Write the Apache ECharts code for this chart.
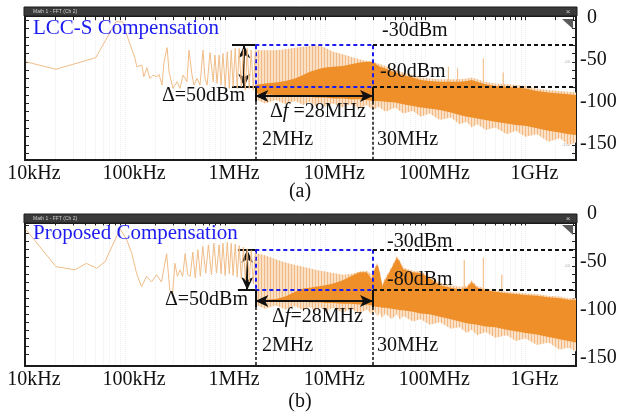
<!DOCTYPE html>
<html><head><meta charset="utf-8">
<script src="https://cdn.jsdelivr.net/npm/echarts@6/dist/echarts.min.js"></script>
<style>html,body{margin:0;padding:0;background:#fff}#c{width:622px;height:415px}</style>
</head><body><div id="c"></div>
<script>
// ---------- axis / tick data ----------
const X_MIN = 1e4, X_MAX = 3.2e9;
const xTickValues = [1e4, 1e5, 1e6, 1e7, 1e8, 1e9];
const xTickLabels = ['10kHz', '100kHz', '1MHz', '10MHz', '100MHz', '1GHz'];
const yTickValues = [0, -50, -100, -150];
const F_LOW = 2e6, F_HIGH = 3e7;       // 2MHz, 30MHz
const LVL_HI = -30, LVL_LO = -80;      // -30dBm, -80dBm

// ---------- (a) LCC-S compensation ----------
const lowA = [[1.02e4,-50],[2.04e4,-59],[5.1e4,-45],[8.1e4,-2],[9.5e4,-2],[1.02e5,-15],[1.25e5,-45],[1.31e5,-56],[1.47e5,-54],[1.54e5,-68],[1.65e5,-57],[1.77e5,-70],[1.9e5,-66],[2.08e5,-68],[2.18e5,-65],[2.34e5,-78],[2.45e5,-50],[2.63e5,-33],[2.75e5,-62],[3.01e5,-82],[3.3e5,-74],[3.54e5,-82],[3.79e5,-66],[4.15e5,-74],[4.35e5,-36],[4.66e5,-66],[4.88e5,-78],[5.23e5,-70],[5.6e5,-78],[6.0e5,-36],[6.3e5,-70],[6.6e5,-78],[7.05e5,-39],[7.6e5,-74],[7.9e5,-42],[8.3e5,-76],[8.7e5,-42],[9.1e5,-78],[9.5e5,-40],[1.0e6,-80],[1.05e6,-38],[1.1e6,-82],[1.15e6,-36],[1.2e6,-80],[1.26e6,-34],[1.32e6,-82],[1.38e6,-34],[1.45e6,-80],[1.52e6,-35],[1.59e6,-84],[1.66e6,-34],[1.74e6,-82],[1.82e6,-36],[1.91e6,-84],[2.0e6,-38]];
const bandFreqA = [2.0e6,2.5e6,3.2e6,4.0e6,5.0e6,6.0e6,7.0e6,8.0e6,9.0e6,1.0e7,1.2e7,1.5e7,1.8e7,2.2e7,2.6e7,3.0e7,3.4e7,4.0e7,5.0e7,6.0e7,7.5e7,9.0e7,1.1e8,1.4e8,1.8e8,2.2e8,2.6e8,2.9e8,3.3e8,4.0e8,5.0e8,6.5e8,8.0e8,1.0e9,1.3e9,1.7e9,2.2e9,2.7e9,3.2e9];
const lightTopA = [-36,-36,-36,-35,-33,-32,-31,-30,-31,-33,-38,-41,-44,-47,-49,-50,-52,-55,-60,-63,-66,-69,-70,-71,-71,-71,-70,-69,-71,-74,-76,-77,-78,-79,-82,-84,-85,-86,-87];
const darkTopA = [-78,-76,-75,-73,-70,-66,-62,-60,-58,-57,-56,-55,-53,-51,-50,-50,-55,-58,-63,-66,-69,-72,-73,-74,-74,-74,-73,-72,-74,-77,-79,-80,-81,-82,-85,-87,-88,-89,-90];
const darkBottomA = [-88,-89,-90,-90,-91,-92,-92,-93,-93,-93,-94,-94,-95,-95,-96,-97,-97,-98,-99,-101,-103,-105,-106,-108,-111,-114,-116,-117,-118,-120,-122,-124,-126,-127,-130,-133,-135,-137,-138];
const lightBottomA = [-95,-100,-96,-101,-97,-102,-98,-103,-99,-104,-100,-105,-101,-106,-102,-108,-104,-110,-105,-112,-109,-116,-112,-120,-117,-125,-122,-129,-125,-132,-129,-137,-133,-140,-137,-146,-142,-150,-147];
const spikeFreqA = [1.7e8, 2.1e8, 3.8e8, 6.0e8];
const spikeTopA = [-56, -58, -46, -63];

// ---------- (b) Proposed compensation ----------
const lowB = [[1.02e4,-5],[2.04e4,-51],[3.16e4,-55],[4.1e4,-47],[5.2e4,-53],[6.3e4,-45],[8.2e4,-14],[8.9e4,-4],[9.2e4,-2],[1.04e5,-18],[1.17e5,-35],[1.3e5,-59],[1.46e5,-76],[1.64e5,-63],[1.84e5,-70],[2.06e5,-61],[2.31e5,-70],[2.6e5,-35],[2.8e5,-80],[2.98e5,-84],[3.15e5,-47],[3.33e5,-63],[3.54e5,-55],[3.76e5,-63],[3.98e5,-35],[4.23e5,-61],[4.47e5,-63],[4.75e5,-33],[5.02e5,-65],[5.34e5,-30],[5.65e5,-63],[5.97e5,-26],[6.4e5,-59],[6.8e5,-24],[7.3e5,-61],[7.7e5,-22],[8.2e5,-59],[8.7e5,-24],[9.1e5,-60],[9.5e5,-22],[1.0e6,-62],[1.05e6,-21],[1.1e6,-60],[1.15e6,-22],[1.2e6,-62],[1.26e6,-23],[1.32e6,-64],[1.38e6,-25],[1.45e6,-66],[1.52e6,-27],[1.59e6,-68],[1.66e6,-29],[1.74e6,-70],[1.82e6,-31],[1.91e6,-72],[2.0e6,-33]];
const bandFreqB = [2.0e6,2.5e6,3.2e6,4.0e6,5.0e6,6.0e6,7.0e6,8.0e6,9.0e6,1.0e7,1.2e7,1.5e7,1.8e7,2.2e7,2.6e7,2.9e7,3.1e7,3.3e7,3.5e7,3.7e7,4.0e7,4.6e7,5.2e7,5.6e7,6.0e7,7.5e7,9.0e7,1.1e8,1.4e8,1.8e8,2.2e8,2.6e8,2.9e8,3.3e8,4.0e8,5.0e8,6.5e8,8.0e8,1.0e9,1.3e9,1.7e9,2.2e9,2.7e9,3.2e9];
const lightTopB = [-34,-37,-42,-46,-49,-51,-53,-55,-56,-57,-59,-61,-60,-57,-56,-60,-53,-46,-56,-72,-64,-51,-38,-44,-52,-56,-57,-63,-71,-74,-76,-75,-68,-75,-78,-80,-82,-83,-84,-85,-87,-88,-90,-90];
const darkTopB = [-92,-92,-91,-88,-82,-78,-77,-76,-75,-74,-72,-68,-63,-58,-58,-66,-55,-48,-58,-75,-67,-53,-40,-46,-54,-58,-59,-65,-74,-77,-79,-77,-70,-77,-80,-82,-84,-85,-86,-87,-89,-90,-92,-92];
const darkBottomB = [-92,-92,-93,-93,-94,-94,-95,-95,-95,-96,-96,-97,-97,-98,-98,-99,-100,-101,-101,-102,-102,-103,-104,-105,-105,-107,-109,-110,-113,-116,-119,-121,-122,-123,-125,-126,-129,-131,-133,-135,-138,-141,-143,-145];
const lightBottomB = [-98,-103,-99,-104,-100,-105,-101,-106,-101,-107,-102,-108,-103,-109,-104,-110,-106,-113,-108,-115,-109,-116,-110,-117,-112,-119,-116,-123,-120,-128,-126,-133,-129,-136,-132,-139,-136,-143,-140,-148,-145,-154,-151,-156];
const spikeFreqB = [2.45e8, 3.8e8, 5.8e8];
const spikeTopB = [-43, -40, -61];

// ---------- styling ----------
const SERIF = '"Liberation Serif","Times New Roman",serif';
const C_DARK = '#ee8f29', C_TRACE = '#f1bd88', C_SPIKE = '#f3c493';
const C_BLUE = '#1c1cf0';

// streaky light-orange fill (vertical hatching like a dense FFT trace)
const hatch = document.createElement('canvas');
hatch.width = 3; hatch.height = 4;
(function () {
  const g = hatch.getContext('2d');
  g.fillStyle = '#fae0c4'; g.fillRect(0, 0, 3, 4);
  g.fillStyle = '#f2b984'; g.fillRect(0, 0, 1, 4);
})();
const C_LIGHT = {image: hatch, repeat: 'repeat'};

const scopeXTicks = [];
for (let n = 4; n <= 9; n++) for (let k = 1; k <= 9; k++) { const v = k * Math.pow(10, n); if (v > X_MIN && v < X_MAX) scopeXTicks.push(v); }
const scopeYTicks = [];
for (let v = -160; v <= 0; v += 10) scopeYTicks.push(v);

const panels = [
  {gi: 0, top: 16, height: 144, ymin: -168, ymax: 5, low: lowA, bf: bandFreqA, lt: lightTopA, dt: darkTopA, db: darkBottomA, lb: lightBottomA, sf: spikeFreqA, st: spikeTopA, arrowY: -91, solidEnd: -98, fDelta: 1.55e6, fCap: 1.17e6, labTop: 17.8, labH: 125.6},
  {gi: 1, top: 223, height: 143, ymin: -174, ymax: 3, low: lowB, bf: bandFreqB, lt: lightTopB, dt: darkTopB, db: darkBottomB, lb: lightBottomB, sf: spikeFreqB, st: spikeTopB, arrowY: -93.5, solidEnd: -101, fDelta: 1.66e6, fCap: 1.34e6, labTop: 214, labH: 143.3}
];

const grids = [], xAxes = [], yAxes = [], series = [];
panels.forEach(p => {
  grids[p.gi] = {left: 25, width: 551, top: p.top, height: p.height, show: true, borderColor: '#1b1b1b', borderWidth: 2, backgroundColor: '#fff', containLabel: false, outerBoundsMode: 'none'};
  grids[p.gi + 2] = {left: 25, width: 551, top: p.labTop, height: p.labH, show: false, containLabel: false, outerBoundsMode: 'none'};
});
panels.forEach(p => {
  xAxes.push({type: 'log', logBase: 10, gridIndex: p.gi, min: X_MIN, max: X_MAX,
    axisLine: {show: false},
    axisTick: {show: true, inside: true, length: 5, customValues: scopeXTicks, lineStyle: {color: '#222', width: 1}},
    axisLabel: {show: true, customValues: xTickValues, formatter: v => xTickLabels[Math.round(Math.log10(v)) - 4],
      fontFamily: SERIF, fontSize: 20, color: '#111', margin: 4, lineHeight: 20, padding: [0, 0, 0, 18]},
    splitLine: {show: true, lineStyle: {color: 'rgba(0,0,0,0.07)', type: 'dotted'}}});
});
panels.forEach(p => {
  xAxes.push({type: 'value', gridIndex: p.gi + 2, min: 0, max: 1, show: false});
});
panels.forEach(p => {
  yAxes.push({type: 'value', gridIndex: p.gi, position: 'right', min: p.ymin, max: p.ymax,
    axisLine: {show: false},
    axisTick: {show: true, inside: true, length: 4, customValues: scopeYTicks, lineStyle: {color: '#222'}},
    axisLabel: {show: true, inside: true, customValues: [-50, -100, -150], fontSize: 4, color: '#aaa', margin: 6},
    splitLine: {show: false}});
});
panels.forEach(p => {
  yAxes.push({type: 'value', gridIndex: p.gi + 2, position: 'right', min: -150, max: 0, interval: 50,
    axisLine: {show: false}, axisTick: {show: false}, splitLine: {show: false},
    axisLabel: {show: true, margin: 4, align: 'left', fontFamily: SERIF, fontSize: 20, color: '#111',
      formatter: v => v === 0 ? '{z|0}' : String(v),
      rich: {z: {padding: [0, 0, 0, 7], fontFamily: SERIF, fontSize: 20, color: '#111'}}}});
});
panels.forEach(p => {
  yAxes.push({type: 'value', gridIndex: p.gi, position: 'left', min: p.ymin, max: p.ymax,
    axisLine: {show: false}, axisLabel: {show: false}, splitLine: {show: false},
    axisTick: {show: true, inside: true, length: 4, customValues: scopeYTicks, lineStyle: {color: '#222'}}});
});

function band(p, top, bot, color, z) {
  return {type: 'custom', xAxisIndex: p.gi, yAxisIndex: p.gi, silent: true, z: z, clip: true,
    data: [[p.bf[0], top[0]]],
    renderItem: (params, api) => {
      const pts = [];
      for (let i = 0; i < p.bf.length; i++) pts.push(api.coord([p.bf[i], top[i]]));
      for (let i = p.bf.length - 1; i >= 0; i--) pts.push(api.coord([p.bf[i], bot[i]]));
      return {type: 'polygon', shape: {points: pts}, style: {fill: color}};
    }};
}

panels.forEach(p => {
  series.push(band(p, p.lt, p.lb, C_LIGHT, 2));
  const sp = [];
  p.sf.forEach((f, i) => { sp.push([f, -88]); sp.push([f, p.st[i]]); sp.push([f, -88]); });
  series.push({type: 'line', xAxisIndex: p.gi, yAxisIndex: p.gi, data: sp, symbol: 'none', silent: true, z: 3,
    lineStyle: {color: C_SPIKE, width: 1}});
  series.push(band(p, p.dt, p.db, C_DARK, 4));
  const solid = {color: '#111', width: 2, type: 'solid'};
  const dash = {color: '#111', width: 2, type: [4, 3]};
  const dot = {color: '#111', width: 1.5, type: [3, 2]};
  const blue = {color: C_BLUE, width: 2, type: [4, 3]};
  const arrow = {symbol: 'arrow', symbolSize: [9, 13]};
  const seg = (a, b, ls, s1, s2) => [Object.assign({coord: a, lineStyle: ls}, s1 || {}), Object.assign({coord: b}, s2 || {})];
  series.push({type: 'line', xAxisIndex: p.gi, yAxisIndex: p.gi, data: p.low, symbol: 'none', silent: true, z: 6,
    lineStyle: {color: C_TRACE, width: 1},
    markLine: {silent: true, symbol: 'none', label: {show: false}, animation: false,
      data: [
        seg([F_LOW, LVL_HI], [F_HIGH, LVL_HI], blue),
        seg([F_LOW, LVL_LO], [F_HIGH, LVL_LO], blue),
        seg([F_LOW, LVL_HI], [F_LOW, LVL_LO], blue),
        seg([F_HIGH, LVL_HI], [F_HIGH, LVL_LO], blue),
        seg([F_HIGH, LVL_HI], [X_MAX, LVL_HI], dash),
        seg([F_HIGH, LVL_LO], [X_MAX, LVL_LO], dash),
        seg([p.fCap, LVL_HI], [F_LOW, LVL_HI], solid),
        seg([p.fCap, LVL_LO], [F_LOW, LVL_LO], solid),
        seg([F_LOW, LVL_LO], [F_LOW, p.solidEnd], solid),
        seg([F_HIGH, LVL_LO], [F_HIGH, p.solidEnd], solid),
        seg([F_LOW, p.solidEnd], [F_LOW, p.ymin], dot),
        seg([F_HIGH, p.solidEnd], [F_HIGH, p.ymin], dot),
        seg([F_LOW, p.arrowY], [F_HIGH, p.arrowY], solid, arrow, arrow),
        seg([p.fDelta, LVL_HI], [p.fDelta, LVL_LO], solid, arrow, arrow)
      ]}});
});

// ---------- texts & scope decorations ----------
const txt = (text, x, y, size, color, align, extra) => Object.assign({type: 'text', x: x, y: y, z: 100, silent: true,
  style: {text: text, fill: color || '#111', font: size + 'px ' + SERIF, textAlign: align || 'left', textVerticalAlign: 'middle'}}, extra || {});
const richF = (text, x, y) => ({type: 'text', x: x, y: y, z: 100, silent: true,
  style: {text: text, textAlign: 'left', textVerticalAlign: 'middle', fill: '#111', font: '20px ' + SERIF,
    rich: {n: {fontFamily: SERIF, fontSize: 20, fill: '#111'}, i: {fontFamily: SERIF, fontSize: 20, fontStyle: 'italic', fill: '#111'}}}});

const graphic = [];
[{y: 7, triY: 19}, {y: 214, triY: 225}].forEach(b => {
  graphic.push({type: 'rect', z: 90, silent: true, shape: {x: 24, y: b.y, width: 553, height: 9}, style: {fill: '#3a3a3a', stroke: '#1b1b1b', lineWidth: 1}});
  graphic.push({type: 'text', z: 91, silent: true, x: 33, y: b.y + 4.5, style: {text: 'Math 1 - FFT (Ch 2)', fill: '#cfcfcf', font: '5px sans-serif', textVerticalAlign: 'middle'}});
  graphic.push({type: 'text', z: 91, silent: true, x: 568, y: b.y + 4.5, style: {text: '×', fill: '#cfcfcf', font: '8px sans-serif', textAlign: 'center', textVerticalAlign: 'middle'}});
  graphic.push({type: 'polygon', z: 91, silent: true, shape: {points: [[562, b.triY], [573, b.triY], [573, b.triY + 10]]}, style: {fill: '#5a5a5a'}});
});
graphic.push(
  txt('LCC-S Compensation', 33, 28, 21, C_BLUE),
  txt('-30dBm', 382, 31, 20),
  txt('-80dBm', 380, 72, 20),
  txt('Δ=50dBm', 245, 96, 20, '#111', 'right'),
  richF('{n|Δ}{i|f}{n| =28MHz}', 270, 112),
  txt('2MHz', 262, 140, 20),
  txt('30MHz', 377, 140, 20),
  txt('(a)', 300, 192, 20, '#111', 'center'),
  txt('Proposed Compensation', 33, 233, 21, C_BLUE),
  txt('-30dBm', 387, 242, 20),
  txt('-80dBm', 387, 280, 20),
  txt('Δ=50dBm', 248, 300, 20, '#111', 'right'),
  richF('{n|Δ}{i|f}{n|=28MHz}', 272, 317),
  txt('2MHz', 262, 346, 20),
  txt('30MHz', 377, 346, 20),
  txt('(b)', 300, 402, 20, '#111', 'center')
);

const chart = echarts.init(document.getElementById('c'));
chart.setOption({
  animation: false,
  backgroundColor: '#fff',
  grid: grids,
  xAxis: xAxes,
  yAxis: yAxes,
  series: series,
  graphic: graphic
});
</script>
</body></html>
